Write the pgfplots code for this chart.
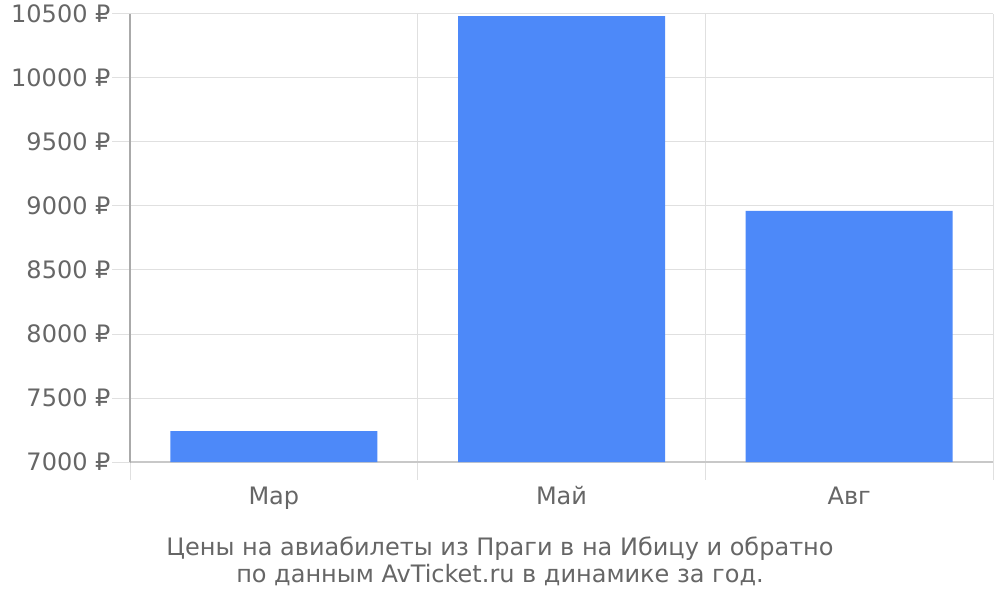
\documentclass[border=0pt]{standalone}
\usepackage{pgfplots}
\pgfplotsset{compat=1.18}
\usepackage{fontspec}
\setmainfont{DejaVu Sans}
\definecolor{barblue}{HTML}{4D89F9}
\definecolor{txtgray}{HTML}{666666}
\definecolor{gridgray}{HTML}{E0E0E0}
\definecolor{axgray}{HTML}{AAAAAA}
\definecolor{bottomgray}{HTML}{C8C8C8}
\begin{document}
\begin{tikzpicture}[x=1pt,y=1pt]
\useasboundingbox (0,0) rectangle (1000,600);
\begin{axis}[
  at={(130pt,138pt)}, anchor=south west,
  scale only axis, width=863pt, height=448pt,
  xmin=-0.5, xmax=2.5, ymin=7000, ymax=10500,
  ybar, bar width=207pt,
  axis lines=left,
  x axis line style={draw=bottomgray, line width=1.2pt, -},
  y axis line style={draw=axgray, line width=1.2pt, -},
  xtick={-0.5,0.5,1.5,2.5}, xticklabels={},
  extra x ticks={0,1,2},
  extra x tick labels={Мар,Май,Авг},
  extra x tick style={grid=none, major tick length=0pt, tick style={draw=none}},
  ytick={7000,7500,...,10500},
  scaled y ticks=false,
  yticklabel={\pgfmathprintnumber[1000 sep={},fixed,precision=0]{\tick}~₽},
  /pgf/number format/assume math mode=true,
  xmajorgrids, ymajorgrids,
  major grid style={draw=gridgray, line width=1pt},
  tick style={draw=gridgray, line width=1pt},
  major tick length=18pt,
  tick align=outside,
  ticklabel style={font=\fontsize{24}{28}\selectfont, text=txtgray},
  yticklabel style={xshift=2pt},
  xticklabel style={yshift=-21pt},
  clip=true,
]
\addplot[fill=barblue, draw=none] coordinates {(0,7242) (1,10484) (2,8961)};
\draw[axgray, line width=1.2pt] (axis cs:-0.5,7000) -- ++(0,-18pt);
\end{axis}
\node[align=center, text=txtgray, font=\fontsize{24}{27}\selectfont] at (500,38.5)
  {Цены на авиабилеты из Праги в на Ибицу и обратно\\по данным AvTicket.ru в динамике за год.};
\end{tikzpicture}
\end{document}
